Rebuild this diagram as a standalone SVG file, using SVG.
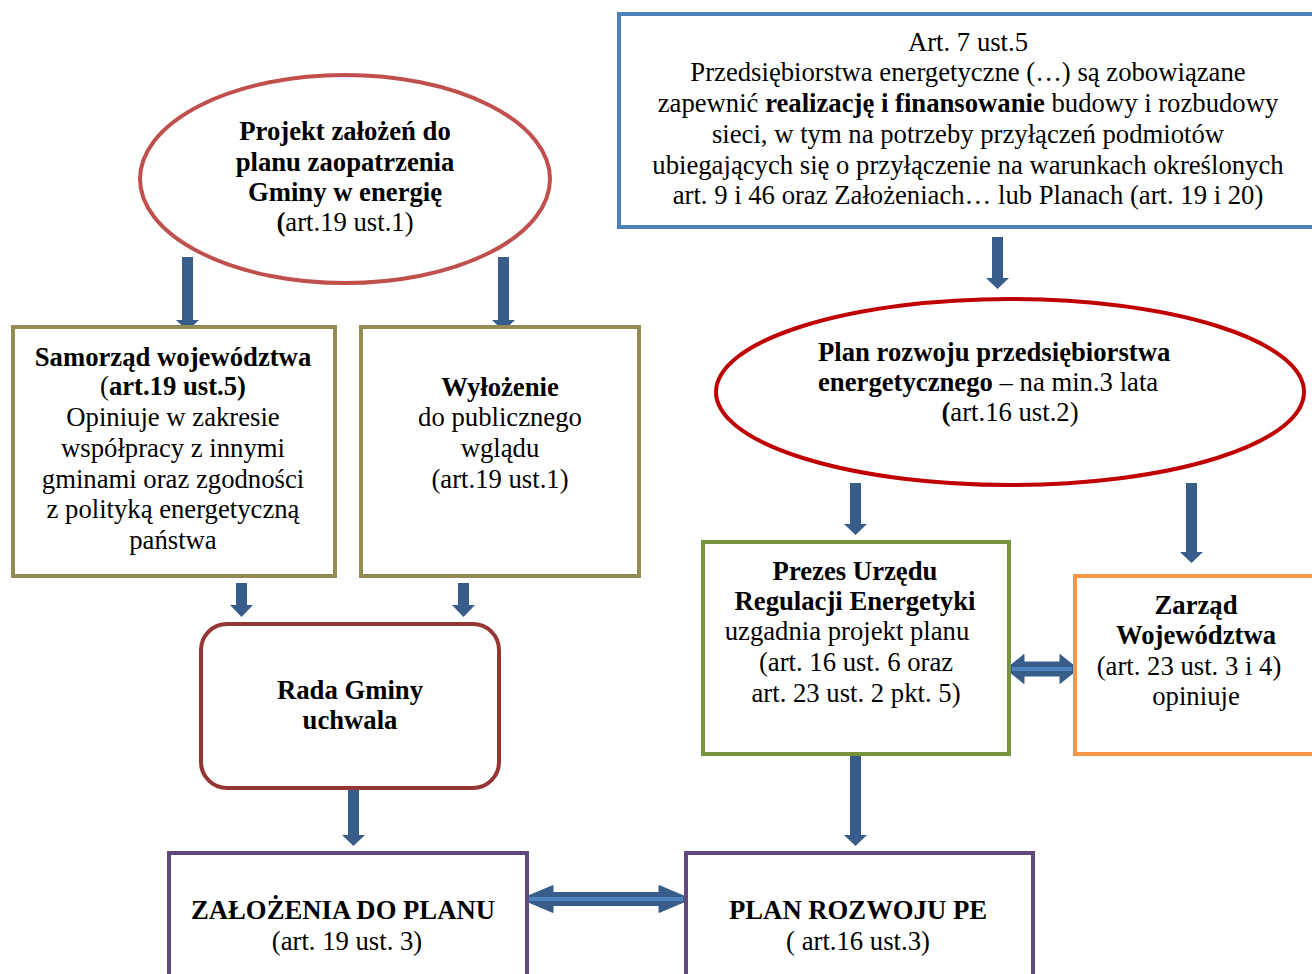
<svg xmlns="http://www.w3.org/2000/svg" width="1312" height="974" viewBox="0 0 1312 974">
<style>
text{font-family:"Liberation Serif","Times New Roman",serif;font-size:26.7px;fill:#000;text-anchor:middle}
.b{font-weight:bold}
.box{fill:#fff;stroke-width:4}
.arr{fill:#385D8A}
.dbl{fill:#385D8A;stroke:#385D8A;stroke-width:1}
.dbi{stroke:#4F81BD;stroke-width:4;fill:none}
</style>
<rect width="1312" height="974" fill="#fff"/>

<g id="connectors">
<polygon class="arr" points="182,257 193,257 193,320 199,320 187.5,331 176,320 182,320"/>
<polygon class="arr" points="498,257 509,257 509,320 515,320 503.5,331 492,320 498,320"/>
<polygon class="arr" points="236,583 247,583 247,605 253,605 241.5,617 230,605 236,605"/>
<polygon class="arr" points="458,583 469,583 469,605 475,605 463.5,617 452,605 458,605"/>
<polygon class="arr" points="348,788 359,788 359,835 365,835 353.5,846 342,835 348,835"/>
<polygon class="arr" points="992,237 1003,237 1003,278 1009,278 997.5,289 986,278 992,278"/>
<polygon class="arr" points="850,483 861,483 861,524 867,524 855.5,535 844,524 850,524"/>
<polygon class="arr" points="1186,483 1197,483 1197,552 1203,552 1191.5,563 1180,552 1186,552"/>
<polygon class="arr" points="850,755 861,755 861,835 867,835 855.5,846 844,835 850,835"/>
<polygon class="dbl" points="1006,669 1024,654.5 1024,662 1060,662 1060,654.5 1078,669 1060,683.5 1060,676 1024,676 1024,683.5"/>
<line class="dbi" x1="1012" y1="669" x2="1072" y2="669"/>
<polygon class="dbl" points="521,899 553,885.5 553,892.5 659,892.5 659,885.5 691,899 659,912.5 659,905.5 553,905.5 553,912.5"/>
<line class="dbi" x1="529" y1="899" x2="683" y2="899"/>
</g>

<g id="projekt">
<ellipse cx="345" cy="179" rx="205" ry="104" fill="#fff" stroke="#C0504D" stroke-width="4"/>
<text x="345" y="140" class="b">Projekt założeń do</text>
<text x="345" y="171" class="b">planu zaopatrzenia</text>
<text x="345" y="201" class="b">Gminy w energię</text>
<text x="345" y="231"><tspan class="b">(</tspan>art.19 ust.1)</text>
</g>

<g id="art7">
<rect class="box" x="619" y="14" width="720" height="213" stroke="#4F81BD"/>
<text x="968" y="51">Art. 7 ust.5</text>
<text x="968" y="81">Przedsiębiorstwa energetyczne (…) są zobowiązane</text>
<text x="968" y="112">zapewnić <tspan class="b">realizację i finansowanie</tspan> budowy i rozbudowy</text>
<text x="968" y="143">sieci, w tym na potrzeby przyłączeń podmiotów</text>
<text x="968" y="174">ubiegających się o przyłączenie na warunkach określonych</text>
<text x="968" y="204">art. 9 i 46 oraz Założeniach… lub Planach (art. 19 i 20)</text>
</g>

<g id="samorzad">
<rect class="box" x="13" y="327" width="322" height="249" stroke="#948A54"/>
<text x="173" y="366" class="b">Samorząd województwa</text>
<text x="173" y="395">(<tspan class="b">art.19 ust.5)</tspan></text>
<text x="173" y="426">Opiniuje w zakresie</text>
<text x="173" y="457">współpracy z innymi</text>
<text x="173" y="488">gminami oraz zgodności</text>
<text x="173" y="518">z polityką energetyczną</text>
<text x="173" y="549">państwa</text>
</g>

<g id="wylozenie">
<rect class="box" x="361" y="327" width="278" height="249" stroke="#948A54"/>
<text x="500" y="396" class="b">Wyłożenie</text>
<text x="500" y="426">do publicznego</text>
<text x="500" y="457">wglądu</text>
<text x="500" y="488">(art.19 ust.1)</text>
</g>

<g id="rada">
<rect class="box" x="201" y="624" width="298" height="164" rx="26" stroke="#943634"/>
<text x="350" y="699" class="b">Rada Gminy</text>
<text x="350" y="729" class="b">uchwala</text>
</g>

<g id="planrozwoju">
<ellipse cx="1010" cy="392" rx="294" ry="93" fill="#fff" stroke="#C00000" stroke-width="4"/>
<text x="818" y="361" class="b" style="text-anchor:start">Plan rozwoju przedsiębiorstwa</text>
<text x="818" y="391" style="text-anchor:start"><tspan class="b">energetycznego</tspan> – na min.3 lata</text>
<text x="1010" y="421"><tspan class="b">(</tspan>art.16 ust.2)</text>
</g>

<g id="prezes">
<rect class="box" x="703" y="542" width="306" height="212" stroke="#77933C"/>
<text x="855" y="580" class="b">Prezes Urzędu</text>
<text x="855" y="610" class="b">Regulacji Energetyki</text>
<text x="847" y="640">uzgadnia projekt planu</text>
<text x="856" y="671">(art. 16 ust. 6 oraz</text>
<text x="856" y="702">art. 23 ust. 2 pkt. 5)</text>
</g>

<g id="zarzad">
<rect class="box" x="1075" y="576" width="260" height="178" stroke="#F79646"/>
<text x="1196" y="614" class="b">Zarząd</text>
<text x="1196" y="644" class="b">Województwa</text>
<text x="1189" y="675">(art. 23 ust. 3 i 4)</text>
<text x="1196" y="705">opiniuje</text>
</g>

<g id="zalozenia">
<rect class="box" x="169" y="853" width="358" height="140" stroke="#604A7B"/>
<text x="343" y="919" class="b">ZAŁOŻENIA DO PLANU</text>
<text x="347" y="950">(art. 19 ust. 3)</text>
</g>

<g id="planpe">
<rect class="box" x="686" y="853" width="347" height="140" stroke="#604A7B"/>
<text x="858" y="919" class="b">PLAN ROZWOJU PE</text>
<text x="858" y="950">( art.16 ust.3)</text>
</g>
</svg>
